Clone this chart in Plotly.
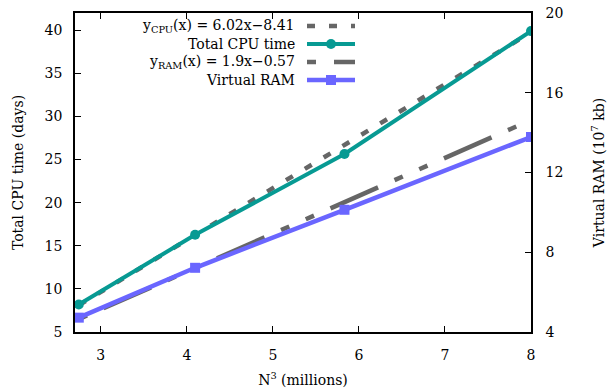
import plotly.graph_objects as go

# Problem size N^3 (millions) for N = 140, 160, 180, 200
n_cubed = [2.744, 4.096, 5.832, 8.0]
# Measured total CPU time (days) and virtual RAM (10^7 kb)
cpu_days = [8.19, 16.27, 25.65, 39.9]
ram_1e7kb = [4.72, 7.22, 10.13, 13.78]

# Linear fit coefficients (slope, intercept)
cpu_fit = (6.02, -8.41)
ram_fit = (1.9, -0.57)

x_ticks = [3, 4, 5, 6, 7, 8]
y_ticks = [5, 10, 15, 20, 25, 30, 35, 40]
y2_ticks = [4, 8, 12, 16, 20]

TEAL = "#079a93"
BLUE = "#6a66ff"
GREY = "#666666"
FONT = "DejaVu Serif"
FS = 14

CPU_DASH = "8px,14px"
RAM_DASH = "9px,18px,52px,18px,9px,18px"

cpu_fit_y = [cpu_fit[0] * x + cpu_fit[1] for x in n_cubed]
ram_fit_y = [ram_fit[0] * x + ram_fit[1] for x in n_cubed]

fig = go.Figure()
fig.add_trace(go.Scatter(x=n_cubed, y=cpu_fit_y, mode="lines",
                         line=dict(color=GREY, width=4.5, dash=CPU_DASH),
                         showlegend=False))
fig.add_trace(go.Scatter(x=n_cubed, y=cpu_days, mode="lines+markers",
                         line=dict(color=TEAL, width=4),
                         marker=dict(symbol="circle", size=10, color=TEAL),
                         showlegend=False))
fig.add_trace(go.Scatter(x=n_cubed, y=ram_fit_y, mode="lines", yaxis="y2",
                         line=dict(color=GREY, width=4.5, dash=RAM_DASH),
                         showlegend=False))
fig.add_trace(go.Scatter(x=n_cubed, y=ram_1e7kb, mode="lines+markers", yaxis="y2",
                         line=dict(color=BLUE, width=4.5),
                         marker=dict(symbol="square", size=10, color=BLUE),
                         showlegend=False))

# Plot area in pixels
L, R, T, B = 75, 531, 13, 332
W, H = 614, 388


def px(xp):
    return (xp - L) / (R - L)


def py(yp):
    return (B - yp) / (B - T)


# Key (text right-aligned, sample to its right)
key_rows = [
    ("y<sub>CPU</sub>(x) = 6.02x\u22128.41", dict(color=GREY, width=4.5, dash=CPU_DASH), None, 26),
    ("Total CPU time", dict(color=TEAL, width=4), "circle", 44),
    ("y<sub>RAM</sub>(x) = 1.9x\u22120.57", dict(color=GREY, width=4.5, dash=RAM_DASH), None, 62),
    ("Virtual RAM", dict(color=BLUE, width=4.5), "square", 80),
]
shapes = []
annotations = []
for text, line, marker, yrow in key_rows:
    annotations.append(dict(text=text, x=px(297), y=py(yrow), xref="paper", yref="paper",
                            xanchor="right", yanchor="middle", showarrow=False,
                            font=dict(family=FONT, size=FS, color="black")))
    shapes.append(dict(type="line", xref="paper", yref="paper",
                       x0=px(307), x1=px(355), y0=py(yrow), y1=py(yrow), line=line))
    if marker:
        r = 5
        shapes.append(dict(type="circle" if marker == "circle" else "rect",
                           xref="paper", yref="paper",
                           x0=px(331 - r), x1=px(331 + r), y0=py(yrow + r), y1=py(yrow - r),
                           fillcolor=line["color"], line=dict(width=0)))

axis_common = dict(showline=True, linecolor="black", linewidth=1.5, ticks="inside",
                   ticklen=6, tickwidth=1, tickcolor="black", showgrid=False, zeroline=False,
                   automargin=False,
                   tickfont=dict(family=FONT, size=FS, color="black"))

fig.update_layout(
    width=W, height=H,
    margin=dict(l=L, r=W - R, t=T, b=H - B),
    paper_bgcolor="white", plot_bgcolor="white",
    font=dict(family=FONT, size=FS, color="black"),
    xaxis=dict(range=[2.7, 8], tickvals=x_ticks, mirror="ticks", ticklabelstandoff=9,
               title=dict(text="N<sup>3</sup> (millions)", standoff=16,
                          font=dict(family=FONT, size=FS)),
               **axis_common),
    yaxis=dict(range=[5, 42], tickvals=y_ticks, ticklabelstandoff=8,
               title=dict(text="Total CPU time (days)", standoff=18,
                          font=dict(family=FONT, size=FS)),
               **axis_common),
    yaxis2=dict(range=[4, 20], tickvals=y2_ticks, overlaying="y", side="right",
                ticklabelstandoff=10,
                title=dict(text="Virtual RAM (10<sup>7</sup> kb)", standoff=32,
                           font=dict(family=FONT, size=FS)),
                **axis_common),
    shapes=shapes,
    annotations=annotations,
)

fig.write_html("out.html")
